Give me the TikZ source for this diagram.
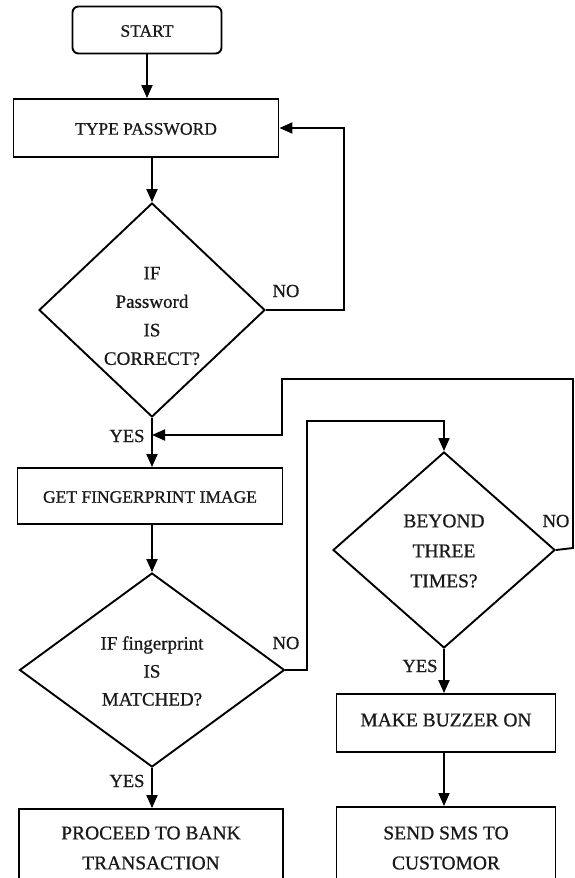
\documentclass[tikz,border=0pt]{standalone}
\usepackage{fontspec}
\setmainfont[FakeBold=0.7]{Liberation Serif}
\usetikzlibrary{shapes.geometric,arrows.meta}
\tikzset{
  box/.style={draw, line width=1.9pt, rectangle, inner sep=0pt},
  startbox/.style={draw, line width=1.9pt, rounded corners=6pt, inner sep=0pt},
  dia/.style={draw, line width=1.9pt, diamond, inner sep=0pt},
  txt/.style={align=center, inner sep=0pt, text=black!90},
  lbl/.style={inner sep=0pt, text=black!90, font=\fontsize{18.5}{20}\selectfont},
  arr/.style={line width=1.9pt, -{Triangle[length=13pt,width=11pt]}},
}
\begin{document}
\begin{tikzpicture}[x=1pt,y=-1pt]
\clip (0,0) rectangle (574,878);
\fill[white] (0,0) rectangle (574,878);
% nodes
\node[startbox, minimum width=149pt, minimum height=47pt] (start) at (147,30) {};
\node[txt, font=\fontsize{17.5}{28}\selectfont] (startt) at (147,31) {START};
\node[box, minimum width=265pt, minimum height=58pt] (tp) at (146,128) {};
\node[txt, font=\fontsize{17.5}{28}\selectfont] (tpt) at (146,129) {TYPE PASSWORD};
\node[dia, minimum width=226pt, minimum height=214pt] (d1) at (152,310) {};
\node[txt, font=\fontsize{19}{28.5}\selectfont] (d1t) at (152,316) {IF\\Password\\IS\\CORRECT?};
\node[box, minimum width=265pt, minimum height=56pt] (gfi) at (150,496) {};
\node[txt, font=\fontsize{17.5}{28}\selectfont] (gfit) at (150,497) {GET FINGERPRINT IMAGE};
\node[dia, minimum width=265pt, minimum height=194pt] (d2) at (152,670) {};
\node[txt, font=\fontsize{19}{28}\selectfont] (d2t) at (152,671) {IF fingerprint\\IS\\MATCHED?};
\node[dia, minimum width=222pt, minimum height=196pt] (d3) at (444,550) {};
\node[txt, font=\fontsize{19.5}{30}\selectfont] (d3t) at (444,551) {BEYOND\\THREE\\TIMES?};
\node[box, minimum width=219pt, minimum height=58pt] (buz) at (446,723) {};
\node[txt, font=\fontsize{19.5}{30}\selectfont] (buzt) at (446,720) {MAKE BUZZER ON};
\node[box, minimum width=219pt, minimum height=100pt] (sms) at (446,857) {};
\node[txt, font=\fontsize{19.5}{30}\selectfont] (smst) at (446,848) {SEND SMS TO\\CUSTOMOR};
\node[box, minimum width=264pt, minimum height=100pt] (proc) at (151,859) {};
\node[txt, font=\fontsize{19.5}{30}\selectfont] (proct) at (151,848) {PROCEED TO BANK\\TRANSACTION};
% labels
\node[lbl] (no1) at (286,291) {NO};
\node[lbl] (yes1) at (127,436) {YES};
\node[lbl] (no2) at (286,643) {NO};
\node[lbl] (yes2) at (127,781) {YES};
\node[lbl] (no3) at (556,521) {NO};
\node[lbl] (yes3) at (420,666) {YES};
\coordinate (j) at (152,435);
% connectors
\draw[arr] (start.south) -- (start.south |- tp.north);
\draw[arr] (tp.south -| d1.north) -- (d1.north);
\draw[arr] (d1.east) -- ++(78,0) |- (tp.east);
\draw[arr] (d1.south) -- (d1.south |- gfi.north);
\draw[arr] (d3.east) -- (573,548) |- (282,379) |- (j);
\draw[arr] (gfi.south -| d2.north) -- (d2.north);
\draw[arr] (d2.east) -- (307,670) |- (444,421) -- (d3.north);
\draw[arr] (d2.south) -- (d2.south |- proc.north);
\draw[arr] (d3.south) -- (d3.south |- buz.north);
\draw[arr] (buz.south -| d3.south) -- (d3.south |- sms.north);
\end{tikzpicture}
\end{document}
